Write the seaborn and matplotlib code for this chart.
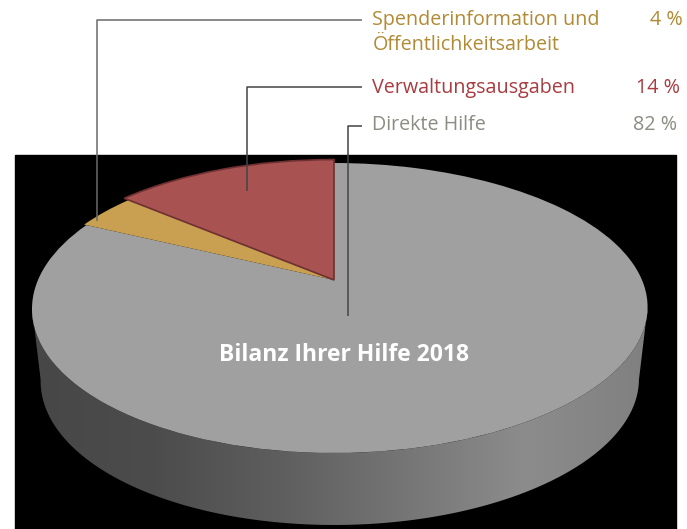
import numpy as np
import matplotlib
matplotlib.use("Agg")
import matplotlib.pyplot as plt
from matplotlib.colors import LinearSegmentedColormap
from matplotlib.patches import Polygon, Rectangle
from matplotlib.transforms import Transform
import seaborn as sns

categories = ["Direkte Hilfe", "Spenderinformation und\nÖffentlichkeitsarbeit", "Verwaltungsausgaben"]
values = [82, 4, 14]
value_labels = ["82 %", "4 %", "14 %"]
slice_colors = ["#a0a0a0", "#c9a052", "#a85252"]
text_colors = ["#8c8c82", "#b08a34", "#a83c40"]
side_shades = ["#474747", "#4c4c4c", "#5e5e5e", "#757575", "#8c8c8c", "#808080"]
chart_title = "Bilanz Ihrer Hilfe 2018"

sns.set_theme(style="white")
plt.rcParams["font.family"] = ["Open Sans", "DejaVu Sans"]

APEX_Y, CX, K, A, B, DEPTH = 280.0, 340.0, 0.193, 139.6, 302.0, 72.0


class Tilt(Transform):
    input_dims = output_dims = 2
    is_separable = False
    has_inverse = False

    def transform_non_affine(self, values):
        v = np.asarray(values, float)
        x, y = v[:, 0], v[:, 1]
        d = 1 + K * y
        px = CX + B * x / d - 6 * np.clip(1 - x ** 2, 0, 1)
        py = APEX_Y - A * y / d
        return np.column_stack([px, py])


fig = plt.figure(figsize=(6.87, 5.29), dpi=100, facecolor="white")
ax = fig.add_axes([0, 0, 1, 1])

wedges, _ = ax.pie(values, colors=slice_colors, startangle=90, counterclock=False,
                   radius=1.0, wedgeprops={"linewidth": 0})
tilt = Tilt()
for w in wedges:
    w.set_transform(tilt + ax.transData)
    w.set_zorder(3)
wedges[1].set_radius(1.01)
wedges[2].set_radius(1.035)
wedges[2].set_edgecolor("#6e3030")
wedges[2].set_linewidth(1.2)

ax.set_aspect("auto")
ax.set_xlim(0, 687)
ax.set_ylim(529, 0)
ax.axis("off")

ax.add_patch(Rectangle((15, 155), 661, 374, color="black", zorder=0))

# side wall of the disc
th = np.radians(np.linspace(191, 349, 160))
top = tilt.transform_non_affine(np.column_stack([np.cos(th), np.sin(th)]))
bot = top.copy()
bot[:, 0] = CX + (bot[:, 0] - CX) * 0.972
bot[:, 1] += DEPTH
wall = Polygon(np.vstack([top, bot[::-1]]), closed=True, transform=ax.transData,
               facecolor="none", edgecolor="none")
ax.add_patch(wall)
cmap = LinearSegmentedColormap.from_list("side", side_shades)
im = ax.imshow(np.linspace(0, 1, 256)[None, :], cmap=cmap, aspect="auto",
               extent=(32, 648, 529, 155), zorder=2)
im.set_clip_path(wall)
ax.set_xlim(0, 687)
ax.set_ylim(529, 0)

# leader lines
line_kw = dict(lw=1.1, solid_capstyle="butt", zorder=4)
ax.plot([362, 97, 97], [19.5, 19.5, 221], color="#6a6a6a", **line_kw)
ax.plot([362, 247, 247], [87, 87, 191], color="#444444", **line_kw)
ax.plot([362, 348, 348], [126, 126, 316], color="#444444", **line_kw)

# legend text
fs = 14.2
ax.text(372.5, 20, categories[1].split("\n")[0], color=text_colors[1], fontsize=fs, va="center")
ax.text(372.5, 45, categories[1].split("\n")[1], color=text_colors[1], fontsize=fs, va="center")
ax.text(372.5, 88, categories[2], color=text_colors[2], fontsize=fs, va="center")
ax.text(372.5, 125, categories[0], color=text_colors[0], fontsize=fs, va="center")
ax.text(683, 20, value_labels[1], color=text_colors[1], fontsize=fs, va="center", ha="right")
ax.text(680, 88, value_labels[2], color=text_colors[2], fontsize=fs, va="center", ha="right")
ax.text(677, 125, value_labels[0], color=text_colors[0], fontsize=fs, va="center", ha="right")

ax.text(344, 355, chart_title, color="white", fontsize=16.5, fontweight="bold",
        ha="center", va="center", zorder=5)

fig.savefig("out.png", dpi=100, facecolor="white")
